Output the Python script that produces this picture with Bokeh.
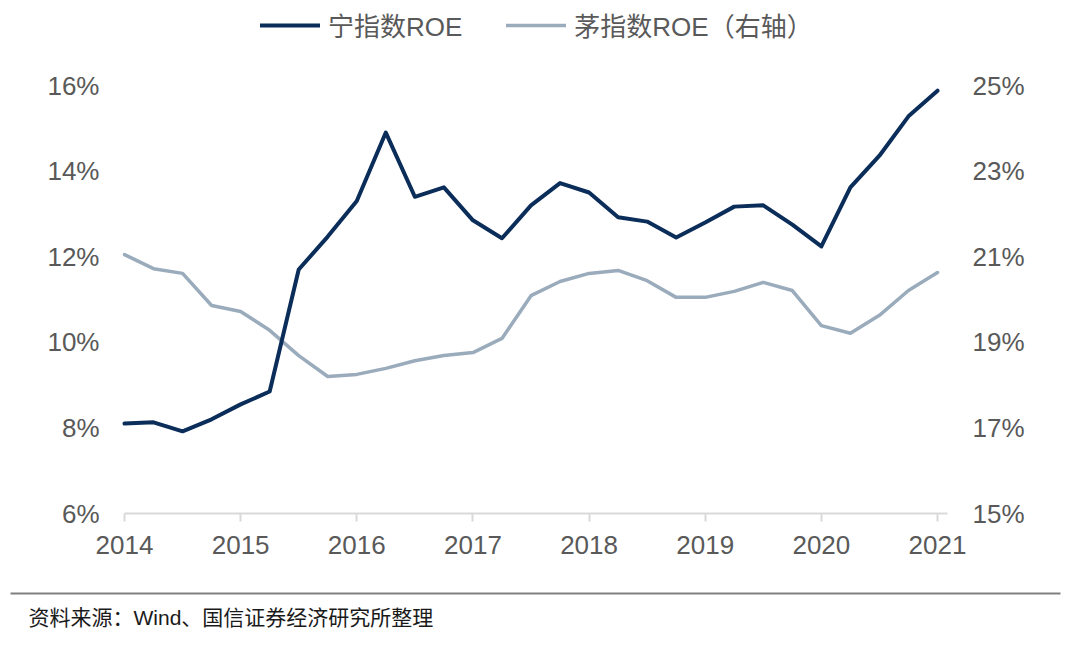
from bokeh.plotting import figure
from bokeh.models import (Range1d, LinearAxis, FixedTicker, PrintfTickFormatter,
                          Legend, LegendItem, ColumnDataSource, Label)
from bokeh.embed import file_html
from bokeh.resources import INLINE

# ---------------- data ----------------
quarters = [2014 + k / 4 for k in range(29)]
ning_roe = [8.10, 8.13, 7.92, 8.20, 8.55, 8.85, 11.70, 12.47, 13.30, 14.90,
            13.40, 13.62, 12.85, 12.43, 13.20, 13.72, 13.50, 12.92, 12.82, 12.45,
            12.80, 13.17, 13.20, 12.75, 12.24, 13.62, 14.36, 15.28, 15.88]
mao_roe = [21.05, 20.72, 20.61, 19.86, 19.72, 19.28, 18.69, 18.20, 18.25, 18.39,
           18.57, 18.69, 18.76, 19.09, 20.09, 20.42, 20.61, 20.68, 20.44, 20.05,
           20.05, 20.19, 20.40, 20.21, 19.39, 19.21, 19.63, 20.21, 20.63]
year_ticks = [2014, 2015, 2016, 2017, 2018, 2019, 2020, 2021]
left_ticks = [6, 8, 10, 12, 14, 16]
right_ticks = [15, 17, 19, 21, 23, 25]
series_names = ["宁指数ROE", "茅指数ROE（右轴）"]
source_note = "资料来源：Wind、国信证券经济研究所整理"

FONT = "Liberation Sans, Noto Sans CJK SC"
LABEL_COLOR = "#595959"
NAVY = "#0B2D59"
GREY = "#9AABBC"

# ---------------- layout (canvas pixels) ----------------
W, H = 1072, 641
AX_LEFT, AX_RIGHT = 124, 947      # x of first year tick / end of the x axis line
YEAR_SPAN_PX = 813                # pixels between first and last year tick
AX_TOP, AX_BOTTOM = 85, 513       # y of top / bottom tick

ppx = YEAR_SPAN_PX / (year_ticks[-1] - year_ticks[0])
ppy = (AX_BOTTOM - AX_TOP) / (left_ticks[-1] - left_ticks[0])
x0 = year_ticks[0] - AX_LEFT / ppx
x1 = year_ticks[0] + (W - AX_LEFT) / ppx
x_axis_end = year_ticks[0] + (AX_RIGHT - AX_LEFT) / ppx
yl0 = left_ticks[0] - (H - AX_BOTTOM) / ppy
yl1 = left_ticks[-1] + AX_TOP / ppy
yr0 = right_ticks[0] - (H - AX_BOTTOM) / ppy
yr1 = right_ticks[-1] + AX_TOP / ppy

def sx(px):
    return x0 + px / ppx

def sy(py):
    return yl1 - py / ppy

src = ColumnDataSource(dict(x=quarters, ning=ning_roe, mao=mao_roe))

p = figure(width=W, height=H, output_backend="svg", toolbar_location=None,
           x_range=Range1d(x0, x1), y_range=Range1d(yl0, yl1),
           min_border=0, min_border_left=0, min_border_right=0,
           min_border_top=0, min_border_bottom=0,
           x_axis_location=None, y_axis_location=None)
p.outline_line_color = None
p.xgrid.visible = False
p.ygrid.visible = False
p.extra_y_ranges = {"right": Range1d(yr0, yr1)}

# axes (drawn at fixed positions inside the canvas)
xaxis = LinearAxis(ticker=FixedTicker(ticks=year_ticks), fixed_location=left_ticks[0],
                   bounds=(year_ticks[0], x_axis_end))
xaxis.axis_line_color = "#D9D9D9"
xaxis.axis_line_width = 2
xaxis.major_tick_line_color = "#D9D9D9"
xaxis.major_tick_line_width = 2
xaxis.major_tick_out = 8
xaxis.major_tick_in = 0
xaxis.minor_tick_line_color = None
xaxis.major_label_standoff = 14
p.add_layout(xaxis, "below")

laxis = LinearAxis(ticker=FixedTicker(ticks=left_ticks), formatter=PrintfTickFormatter(format="%d%%"),
                   fixed_location=year_ticks[0])
raxis = LinearAxis(y_range_name="right", ticker=FixedTicker(ticks=right_ticks),
                   formatter=PrintfTickFormatter(format="%d%%"), fixed_location=x_axis_end)
for ax in (laxis, raxis):
    ax.axis_line_color = None
    ax.major_tick_line_color = None
    ax.minor_tick_line_color = None
    ax.major_tick_out = 0
    ax.major_tick_in = 0
    ax.major_label_standoff = 25
p.add_layout(laxis, "left")
p.add_layout(raxis, "right")

for ax in (xaxis, laxis, raxis):
    ax.major_label_text_font = FONT
    ax.major_label_text_font_size = "26px"
    ax.major_label_text_color = LABEL_COLOR

r_mao = p.line("x", "mao", source=src, y_range_name="right", line_color=GREY, line_width=3.5,
               line_join="round", line_cap="round")
r_ning = p.line("x", "ning", source=src, line_color=NAVY, line_width=4,
                line_join="round", line_cap="round")

legend = Legend(items=[LegendItem(label=series_names[0], renderers=[r_ning]),
                       LegendItem(label=series_names[1], renderers=[r_mao])],
                orientation="horizontal", location=(260, H - 28 - 15))
legend.padding = 0
legend.margin = 0
legend.spacing = 44
legend.glyph_width = 60
legend.glyph_height = 30
legend.label_standoff = 8
legend.label_text_font = FONT
legend.label_text_font_size = "26px"
legend.label_text_color = LABEL_COLOR
legend.label_text_baseline = "middle"
legend.background_fill_alpha = 0
legend.border_line_color = None
p.add_layout(legend, "center")

# footer rule and source note
p.line([sx(10), sx(1060)], [sy(593), sy(593)], line_color="#808080", line_width=2)
p.add_layout(Label(x=28, y=H - 617, x_units="screen", y_units="screen", text=source_note,
                   text_font=FONT, text_font_size="21px", text_color="#1A1A1A",
                   text_baseline="middle", text_align="left"))

open("out.html", "w").write(file_html(p, INLINE))
